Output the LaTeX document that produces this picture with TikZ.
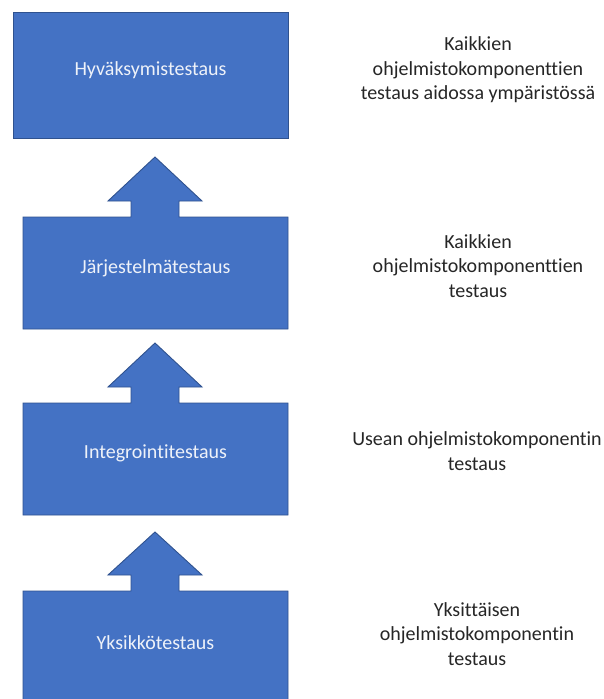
\documentclass[tikz,border=0pt]{standalone}
\usepackage{fontspec}
\setmainfont{Carlito}[Ligatures={NoCommon}]
\definecolor{boxfill}{HTML}{4472C4}
\definecolor{boxline}{HTML}{2F528F}
\definecolor{boxtext}{HTML}{EEF2F9}
\definecolor{sidetext}{HTML}{262626}
\begin{document}
\begin{tikzpicture}[x=1pt,y=-1pt,
  blockshape/.style={fill=boxfill,draw=boxline,line width=0.9pt,line join=miter},
  boxlabel/.style={text=boxtext,font=\fontsize{20}{24.4}\selectfont,inner sep=0pt},
  sidelabel/.style={text=sidetext,align=center,font=\fontsize{20}{24.4}\selectfont,inner sep=0pt}]
\useasboundingbox[fill=white] (0,0) rectangle (604,699);
\begin{scope}
\clip (0,0) rectangle (604,699);
% top box
\path[blockshape] (13,12) rectangle (288,138);
% box 2 with arrow
\path[blockshape] (23,217) -- (131,217) -- (131,201) -- (108,201) -- (155,157) -- (202,201) -- (179,201) -- (179,217) -- (288,217) -- (288,329) -- (23,329) -- cycle;
% box 3 with arrow
\path[blockshape] (23,403) -- (131,403) -- (131,387) -- (108,387) -- (155,343) -- (202,387) -- (179,387) -- (179,403) -- (288,403) -- (288,515) -- (23,515) -- cycle;
% box 4 with arrow
\path[blockshape] (23,591) -- (131,591) -- (131,575) -- (108,575) -- (155,532) -- (202,575) -- (179,575) -- (179,591) -- (288,591) -- (288,705) -- (23,705) -- cycle;
\end{scope}
\node[boxlabel] (hyv) at (150.5,70) {Hyväksymistestaus};
\node[boxlabel] (jar) at (155.5,268) {Järjestelmätestaus};
\node[boxlabel] (int) at (155.5,453) {Integrointitestaus};
\node[boxlabel] (yks) at (155.5,643) {Yksikkötestaus};
\node[sidelabel] (t1) at (478,70) {Kaikkien\\ohjelmistokomponenttien\\testaus aidossa ympäristössä};
\node[sidelabel] (t2) at (478,266) {Kaikkien\\ohjelmistokomponenttien\\testaus};
\node[sidelabel] (t3) at (477,451) {Usean ohjelmistokomponentin\\testaus};
\node[sidelabel] (t4) at (477,634) {Yksittäisen\\ohjelmistokomponentin\\testaus};
\end{tikzpicture}
\end{document}
